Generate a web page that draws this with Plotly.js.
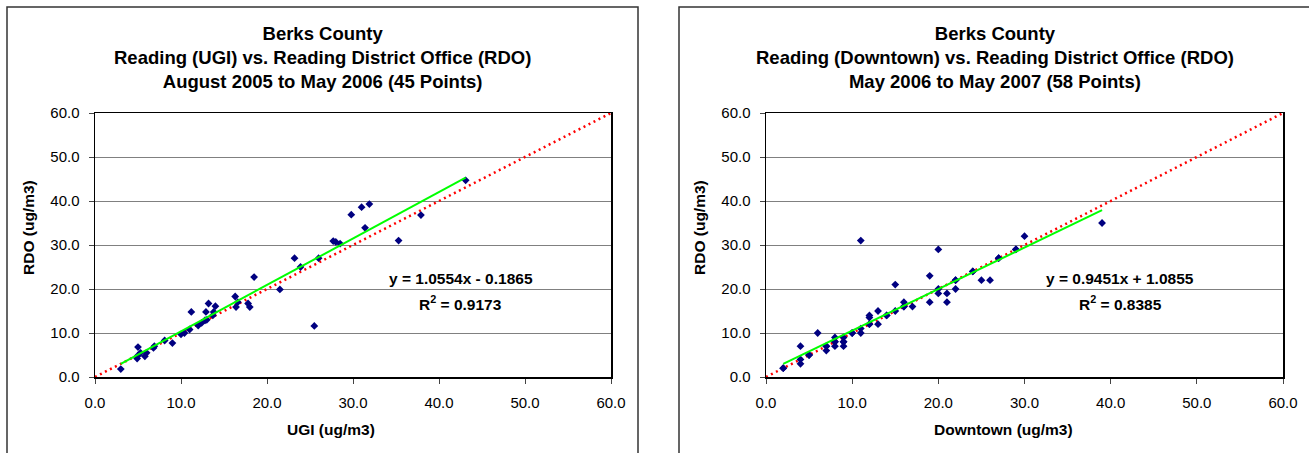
<!DOCTYPE html>
<html>
<head>
<meta charset="utf-8">
<script src="https://cdn.plot.ly/plotly-3.0.1.min.js"></script>
<style>html,body{margin:0;padding:0;background:#fff;}#chart{width:1309px;height:453px;}</style>
</head>
<body>
<div id="chart"></div>
<script>
// ---- Data ----
const leftTitle = "Berks County<br>Reading (UGI) vs. Reading District Office (RDO)<br>August 2005 to May 2006 (45 Points)";
const rightTitle = "Berks County<br>Reading (Downtown) vs. Reading District Office (RDO)<br>May 2006 to May 2007 (58 Points)";
const leftXTitle = "UGI (ug/m3)";
const rightXTitle = "Downtown (ug/m3)";
const yTitle = "RDO (ug/m3)";

const leftX = [3.0, 5.0, 4.9, 5.0, 5.3, 5.8, 6.0, 6.8, 6.9, 8.1, 9.0, 10.0, 10.4, 11.0, 11.2, 12.0, 12.4, 12.8, 12.9, 13.0, 13.2, 13.7, 13.8, 14.0, 16.3, 16.4, 16.6, 17.8, 18.0, 18.5, 21.5, 23.2, 23.9, 25.5, 26.0, 27.7, 28.0, 28.5, 29.8, 31.0, 31.9, 31.4, 35.3, 37.9, 43.1];
const leftY = [1.8, 6.8, 4.2, 4.9, 5.5, 4.7, 5.5, 6.6, 7.0, 8.3, 7.7, 9.7, 10.0, 10.8, 14.8, 11.7, 12.3, 12.9, 14.8, 13.0, 16.7, 14.0, 14.8, 16.1, 18.3, 15.9, 17.0, 16.7, 15.9, 22.7, 19.9, 27.0, 25.0, 11.6, 27.0, 30.9, 30.7, 30.3, 36.9, 38.6, 39.3, 33.9, 31.0, 36.8, 44.7];

const rightX = [2, 4, 4, 4, 5, 5, 6, 7, 7, 7, 8, 8, 8, 8, 9, 9, 9, 9, 10, 10, 11, 11, 11, 12, 12, 12, 12, 13, 13, 14, 14, 15, 15, 16, 16, 16, 17, 19, 19, 20, 20, 20, 21, 21, 22, 22, 22, 24, 24, 25, 26, 27, 27, 29, 29, 30, 39, 2];
const rightY = [2, 7, 4, 3, 5, 5, 10, 6, 7, 7, 9, 8, 8, 7, 9, 8, 8, 7, 10, 10, 31, 11, 10, 14, 13.5, 12, 12, 15, 12, 14, 14, 21, 15, 17, 16, 16, 16, 23, 17, 29, 19, 20, 19, 17, 20, 22, 22, 24, 24, 22, 22, 27, 27, 29, 29, 32, 35, 2];

const leftFit = {slope: 1.0554, intercept: -0.1865, eq: "y = 1.0554x - 0.1865", r2: "R<sup>2</sup> = 0.9173"};
const rightFit = {slope: 0.9451, intercept: 1.0855, eq: "y = 0.9451x + 1.0855", r2: "R<sup>2</sup> = 0.8385"};

const axisRange = [0, 60];
const oneToOne = [0, 60];

// ---- Helpers ----
const W = 1309, H = 453;
const px = v => v / W;
const py = v => 1 - v / H;
const FONT = "Liberation Sans, Arial, sans-serif";

function fitLine(xs, fit) {
  const x0 = Math.min(...xs), x1 = Math.max(...xs);
  return {x: [x0, x1], y: [fit.slope * x0 + fit.intercept, fit.slope * x1 + fit.intercept]};
}
const lf = fitLine(leftX, leftFit);
const rf = fitLine(rightX, rightFit);

const markerStyle = {symbol: 'diamond', size: 6, color: '#000080'};
const dotLine = {color: '#FF0000', width: 2.5, dash: '2px,3.6px'};
const greenLine = {color: '#00FF00', width: 2};

const traces = [
  {x: oneToOne, y: oneToOne, mode: 'lines', line: dotLine, xaxis: 'x', yaxis: 'y', hoverinfo: 'skip'},
  {x: leftX, y: leftY, mode: 'markers', marker: markerStyle, xaxis: 'x', yaxis: 'y'},
  {x: lf.x, y: lf.y, mode: 'lines', line: greenLine, xaxis: 'x', yaxis: 'y'},
  {x: oneToOne, y: oneToOne, mode: 'lines', line: dotLine, xaxis: 'x2', yaxis: 'y2', hoverinfo: 'skip'},
  {x: rightX, y: rightY, mode: 'markers', marker: markerStyle, xaxis: 'x2', yaxis: 'y2'},
  {x: rf.x, y: rf.y, mode: 'lines', line: greenLine, xaxis: 'x2', yaxis: 'y2'}
];

const baseAxis = {
  range: axisRange, dtick: 10, tick0: 0, tickformat: '.1f',
  showline: true, mirror: true, linecolor: '#000', linewidth: 1.5,
  ticks: 'outside', ticklen: 5, tickcolor: '#444', tickwidth: 1,
  zeroline: false, fixedrange: true,
  tickfont: {family: FONT, size: 15, color: '#000'}
};
const xAx = d => Object.assign({}, baseAxis, {domain: d, showgrid: false, ticklabelstandoff: 6});
const yAx = () => Object.assign({}, baseAxis, {domain: [1 - 377/H, 1 - 113/H], showgrid: true, gridcolor: '#808080', gridwidth: 1, ticklabelstandoff: 6});

const ann = (x, y, text, opts) => Object.assign({
  xref: 'paper', yref: 'paper', x: px(x), y: py(y), text: text, showarrow: false,
  xanchor: 'center', yanchor: 'middle',
  font: {family: FONT, size: 15.5, color: '#000', weight: 'bold'}
}, opts || {});

const titleFont = {family: FONT, size: 18.5, color: '#000', weight: 'bold'};

const layout = {
  width: W, height: H,
  margin: {l: 0, r: 0, t: 0, b: 0},
  paper_bgcolor: '#fff', plot_bgcolor: '#fff',
  showlegend: false,
  xaxis: xAx([px(95), px(611)]), yaxis: Object.assign(yAx(), {anchor: 'x'}),
  xaxis2: Object.assign(xAx([px(766), px(1283)]), {anchor: 'y2'}),
  yaxis2: Object.assign(yAx(), {anchor: 'x2'}),
  shapes: [
    {type: 'rect', xref: 'paper', yref: 'paper', x0: px(7), x1: px(638), y0: -0.2, y1: py(7), line: {color: '#333', width: 1.5}},
    {type: 'rect', xref: 'paper', yref: 'paper', x0: px(679), x1: px(1310), y0: -0.2, y1: py(7), line: {color: '#333', width: 1.5}}
  ],
  annotations: [
    ann(322.5, 57.5, leftTitle, {font: titleFont}),
    ann(994.5, 57.5, rightTitle, {font: titleFont}),
    ann(28, 228, yTitle, {textangle: -90}),
    ann(699, 228, yTitle, {textangle: -90}),
    ann(331, 429, leftXTitle),
    ann(1003, 429, rightXTitle),
    ann(460.5, 278.3, leftFit.eq),
    ann(460.7, 303.3, leftFit.r2),
    ann(1119.5, 278.3, rightFit.eq),
    ann(1120, 303.3, rightFit.r2)
  ]
};

Plotly.newPlot('chart', traces, layout, {displayModeBar: false, staticPlot: true});
</script>
</body>
</html>
